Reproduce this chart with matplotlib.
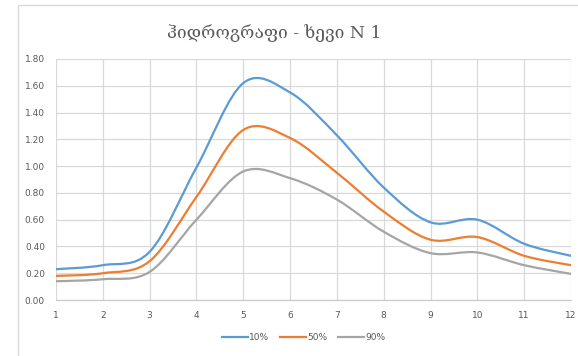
import numpy as np
import matplotlib.pyplot as plt
from matplotlib.path import Path
from matplotlib.patches import PathPatch, Rectangle
from matplotlib.lines import Line2D

# datos
x = [1, 2, 3, 4, 5, 6, 7, 8, 9, 10, 11, 12]
q10 = [0.23, 0.26, 0.36, 0.99, 1.62, 1.55, 1.23, 0.84, 0.58, 0.60, 0.42, 0.33]
q50 = [0.18, 0.20, 0.29, 0.77, 1.27, 1.21, 0.95, 0.66, 0.45, 0.47, 0.33, 0.26]
q90 = [0.14, 0.155, 0.21, 0.60, 0.96, 0.91, 0.75, 0.51, 0.35, 0.355, 0.26, 0.195]
series = ["10%", "50%", "90%"]
colores = ["#5B9BD5", "#ED7D31", "#A5A5A5"]
yticks = [0.0, 0.2, 0.4, 0.6, 0.8, 1.0, 1.2, 1.4, 1.6, 1.8]


def curva_suave(xs, ys):
    # linea suavizada tipo Excel (bezier de Catmull-Rom)
    p = np.column_stack([xs, ys]).astype(float)
    n = len(p)
    verts = [p[0]]
    codes = [Path.MOVETO]
    for i in range(n - 1):
        p0 = p[i - 1] if i > 0 else p[i]
        p3 = p[i + 2] if i + 2 < n else p[i + 1]
        c1 = p[i] + (p[i + 1] - p0) / 6
        c2 = p[i + 1] - (p3 - p[i]) / 6
        verts += [c1, c2, p[i + 1]]
        codes += [Path.CURVE4] * 3
    return Path(verts, codes)


fig = plt.figure(figsize=(5.78, 3.56), dpi=100)
fig.patches.append(Rectangle((18 / 578, -0.1), 1.0, (356 - 5) / 356 + 0.1,
                             transform=fig.transFigure, fill=False,
                             edgecolor="#d9d9d9", linewidth=1.0))
ax = fig.add_axes([56 / 578, 1 - 300 / 356, 515 / 578, 241 / 356])

for ys, c in zip([q10, q50, q90], colores):
    ax.add_patch(PathPatch(curva_suave(x, ys), facecolor="none",
                           edgecolor=c, linewidth=1.6, capstyle="round"))

ax.set_xlim(1, 12)
ax.set_ylim(0, 1.8)
ax.set_xticks(x)
ax.set_yticks(yticks)
ax.set_yticklabels([f"{v:.2f}" for v in yticks])
ax.grid(True, color="#d9d9d9", linewidth=0.9)
ax.set_axisbelow(True)
for s in ["top", "right", "left"]:
    ax.spines[s].set_visible(False)
ax.spines["bottom"].set_color("#c8c8c8")
ax.tick_params(length=0, labelsize=6.5, colors="#595959")
ax.tick_params(axis="x", pad=8)
ax.tick_params(axis="y", pad=8)

fig.text(274 / 578, 1 - 33 / 356, "ჰიდროგრაფი - ხევი N 1", ha="center", va="center",
         fontsize=12.5, color="#595959", family="DejaVu Serif")

handles = [Line2D([], [], color=c, linewidth=1.6) for c in colores]
fig.legend(handles, series, loc="center", bbox_to_anchor=(304 / 578, 1 - 338 / 356),
           ncol=3, frameon=False, fontsize=6.5, labelcolor="#595959",
           handlelength=2.8, handletextpad=0.2, columnspacing=1.2)

plt.savefig("out.png", dpi=100)
